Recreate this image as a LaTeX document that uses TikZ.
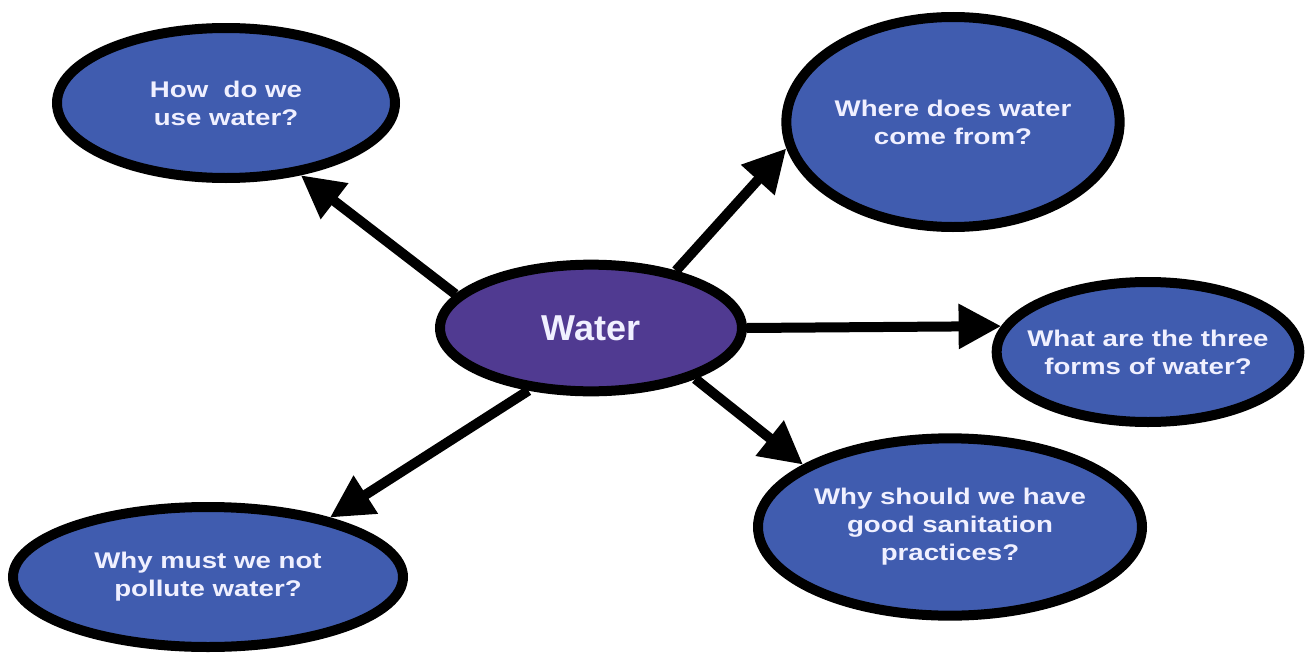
\documentclass[tikz,border=0pt]{standalone}
\usepackage{fontspec}
\setmainfont{Liberation Sans}
\newfontfamily\labfont{Liberation Sans}[FakeStretch=1.22]
\usetikzlibrary{shapes.geometric,arrows.meta}
\definecolor{qblue}{RGB}{64,92,175}
\definecolor{qpurple}{RGB}{80,58,145}
\definecolor{qtext}{RGB}{240,240,255}
\tikzset{
  bubble/.style={ellipse, draw=black, line width=7.5pt, fill=qblue, inner xsep=-30pt, inner ysep=0pt,
    text=qtext, align=center, font=\labfont\bfseries\fontsize{17}{21}\selectfont},
  hub/.style={ellipse, draw=black, line width=7.5pt, fill=qpurple, inner sep=0pt,
    text=qtext, font=\bfseries\fontsize{27}{32}\selectfont},
  link/.style={line width=7.5pt, -{Triangle[length=32pt,width=32pt]}}
}
\begin{document}
\begin{tikzpicture}[x=0.75pt,y=-0.75pt]
\useasboundingbox (0,0) rectangle (1307,653);
\node[hub, minimum width=226.5pt, minimum height=95pt] (c) at (591,328) {Water};
\node[bubble, minimum width=253.5pt, minimum height=112.5pt] (tl) at (226,103) {How\ \ do we\\use water?};
\node[bubble, minimum width=250pt, minimum height=157.5pt] (tr) at (953,122) {Where does water\\come from?};
\node[bubble, minimum width=227pt, minimum height=105pt] (rt) at (1148,352) {What are the three\\forms of water?};
\node[bubble, minimum width=288pt, minimum height=133pt] (br) at (950,527) {Why should we have\\good sanitation\\practices?};
\node[bubble, minimum width=292.5pt, minimum height=105pt] (bl) at (208,577) {Why must we not\\pollute water?};
\draw[link] (c.166) -- (tl.-44);
\draw[link] (c.34.6) -- (tr.-171.3);
\draw[link] (c.0) -- (rt.170.5);
\draw[link] (c.-26.6) -- (br.157.6);
\draw[link] (c.-135.4) -- (bl.26);
\end{tikzpicture}
\end{document}
